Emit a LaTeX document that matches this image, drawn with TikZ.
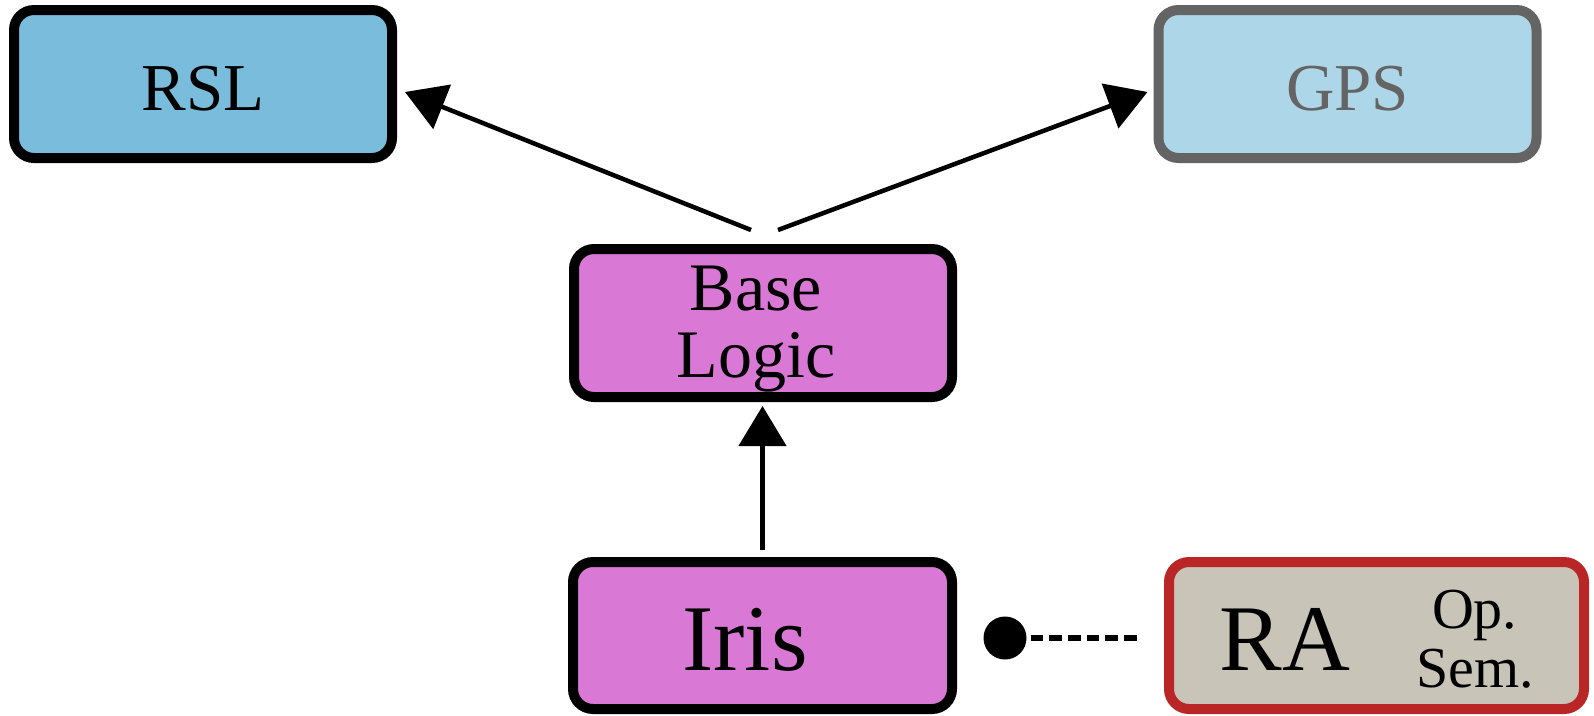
\documentclass[tikz,border=0pt]{standalone}
\usepackage{fontspec}
\setmainfont{Liberation Serif}
\usetikzlibrary{arrows.meta,calc}
\definecolor{rslblue}{RGB}{122,188,219}
\definecolor{gpsblue}{RGB}{173,214,232}
\definecolor{gpsgray}{RGB}{100,100,100}
\definecolor{irisorchid}{RGB}{218,120,214}
\definecolor{rabeige}{RGB}{200,196,184}
\definecolor{rared}{RGB}{186,38,38}
\begin{document}
\begin{tikzpicture}[x=1pt,y=-1pt,
  box/.style={draw=black, line width=10pt, rounded corners=20pt, minimum width=378pt, minimum height=148pt, inner sep=0pt, text=black},
  arr/.style={line width=4.5pt, -{Triangle[length=40pt,width=47pt]}},
  dotnode/.style={circle, fill=black, minimum size=43pt, inner sep=0pt, outer sep=0pt},
  dashline/.style={line width=5.5pt, dash pattern=on 12.7pt off 6pt},
]
\fill[white] (0,0) rectangle (1594,715);
\useasboundingbox (0,0) rectangle (1594,715);
\node[box, fill=rslblue, text height=52pt, text depth=0pt, font=\fontsize{67}{67}\selectfont] (rsl) at (203,84) {RSL};
\node[box, draw=gpsgray, fill=gpsblue, text=gpsgray, text height=52pt, text depth=0pt, font=\fontsize{67}{67}\selectfont] (gps) at (1347.5,84) {GPS};
\node[box, fill=irisorchid, align=center, font=\fontsize{68}{67}\selectfont] (base) at (763,323) {\rule{0pt}{56pt}Base\hspace*{14pt}\\Logic\hspace*{14pt}};
\node[box, fill=irisorchid, minimum width=379pt, minimum height=147pt, text height=69pt, text depth=0pt, font=\fontsize{94}{94}\selectfont] (iris) at (762.5,635.5) {Iris\hspace*{35pt}};
\node[box, draw=rared, fill=rabeige, minimum width=415pt, minimum height=147pt, text height=69pt, text depth=0pt] (ra) at (1376.5,635.5) {\fontsize{94}{94}\selectfont RA\hspace{66pt}\raisebox{-17pt}{\fontsize{58}{59}\selectfont\begin{tabular}[b]{@{}c@{}}Op.\\Sem.\end{tabular}}};
\node[dotnode] (dot) at ([xshift=48pt,yshift=-2.5pt]iris.east) {};
\draw[dashline, shorten <=4pt, shorten >=23pt] (dot.east) -- (dot.east -| ra.west);
\coordinate (bl) at ([xshift=-12pt,yshift=14pt]base.north);
\coordinate (br) at ([xshift=15pt,yshift=14pt]base.north);
\draw[arr] (bl) -- ([xshift=8pt,yshift=-8pt]rsl.east);
\draw[arr] (br) -- ([xshift=-6pt,yshift=-8pt]gps.west);
\draw[arr, shorten <=7pt] (iris.north) -- ([yshift=-4pt]iris.north |- base.south);
\end{tikzpicture}
\end{document}
